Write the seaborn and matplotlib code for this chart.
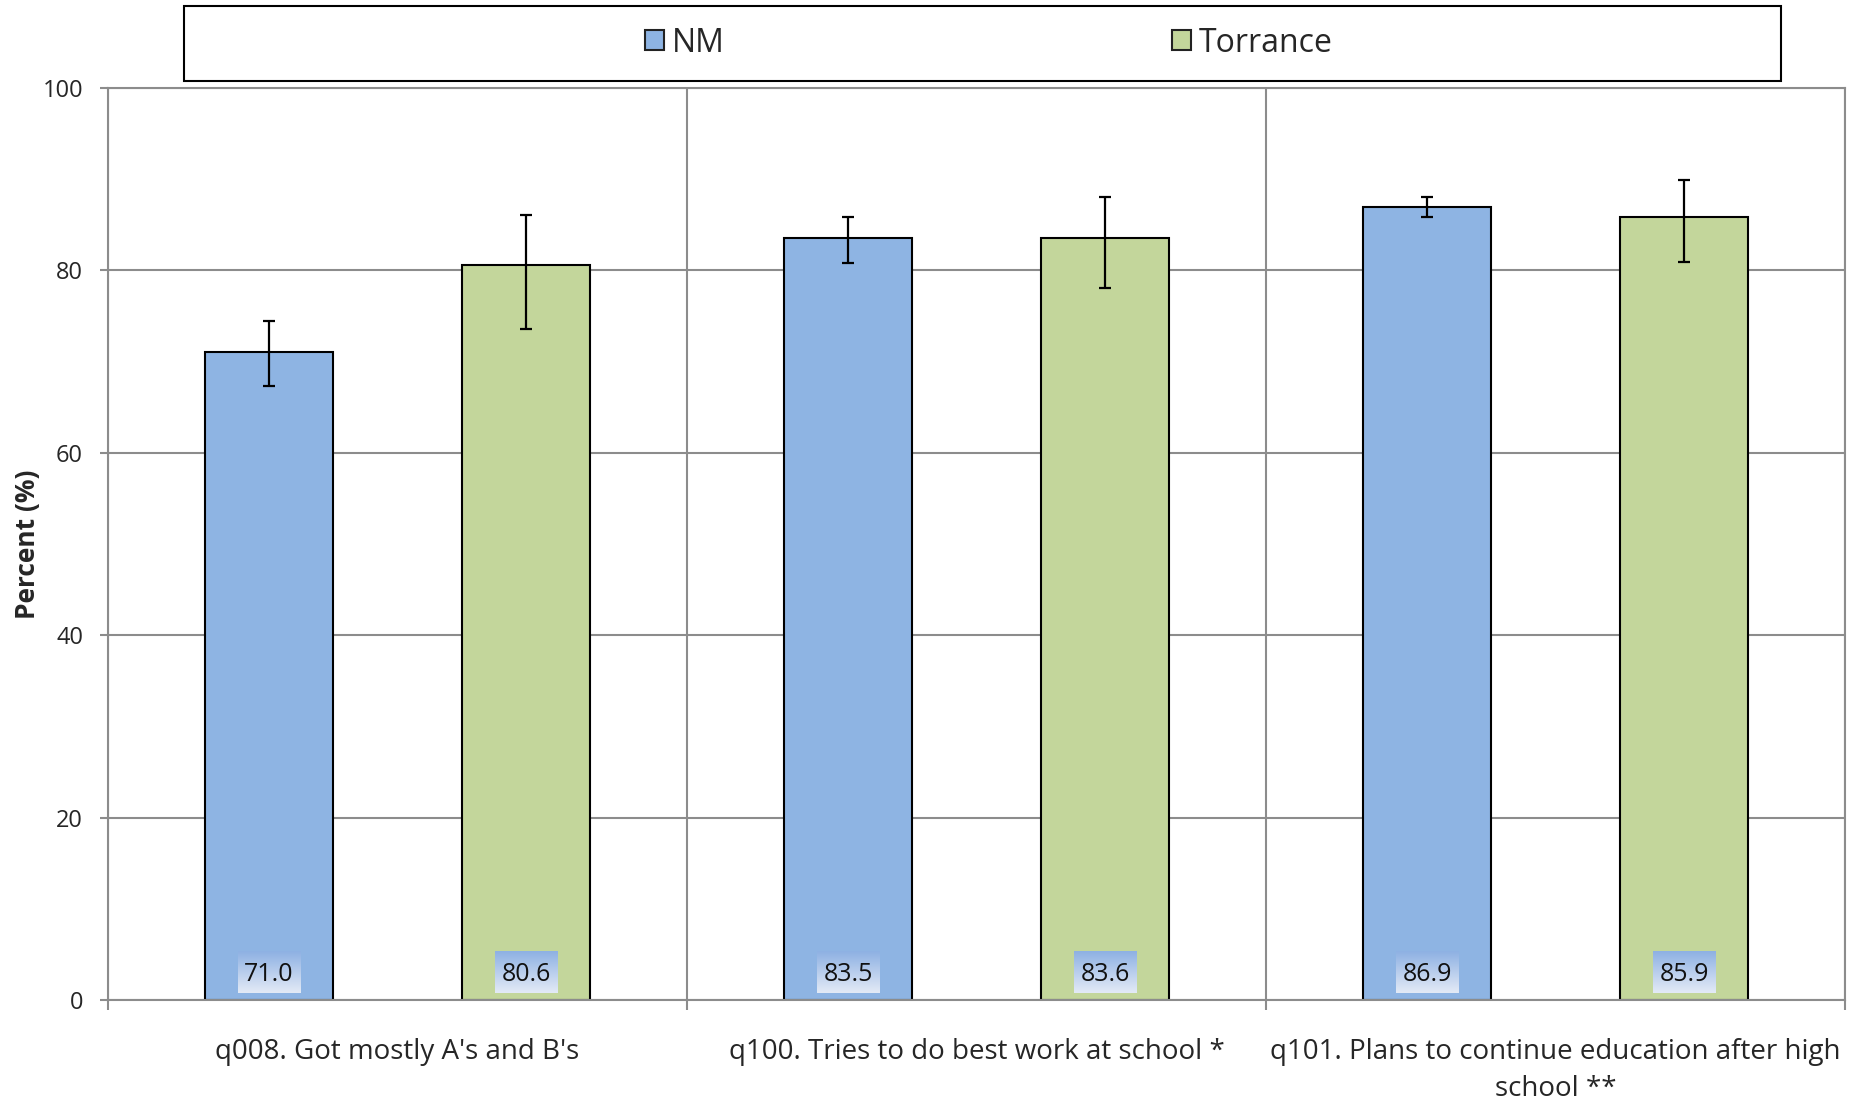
import numpy as np
import pandas as pd
import matplotlib.pyplot as plt
import seaborn as sns
from matplotlib.patches import Rectangle, Patch

# Data
questions = ["q008. Got mostly A's and B's",
             "q100. Tries to do best work at school *",
             "q101. Plans to continue education after high\nschool **"]
groups = ["NM", "Torrance"]
nm_values = [71.0, 83.5, 86.9]
torrance_values = [80.6, 83.6, 85.9]
nm_low = [67.3, 80.8, 85.9]
nm_high = [74.5, 85.9, 88.0]
torrance_low = [73.6, 78.1, 80.9]
torrance_high = [86.1, 88.0, 89.9]

colors = {"NM": "#8EB4E3", "Torrance": "#C3D69B"}

sns.set_style("white")
plt.rcParams['font.family'] = ['Open Sans', 'DejaVu Sans']

df = pd.DataFrame({
    'question': questions * 2,
    'group': ["NM"] * 3 + ["Torrance"] * 3,
    'value': nm_values + torrance_values,
    'low': nm_low + torrance_low,
    'high': nm_high + torrance_high,
})

fig = plt.figure(figsize=(18.66, 11.04), dpi=100)
ax = fig.add_axes([0.0579, 0.0942, 0.9309, 0.8261])

sns.barplot(data=df, x='question', y='value', hue='group', order=questions,
            hue_order=groups, palette=colors, saturation=1, width=0.888,
            gap=0.5, errorbar=None, edgecolor='black', linewidth=1.5, ax=ax,
            legend=False)

# error bars + value labels, from the bar patches
bars = [p for p in ax.patches if isinstance(p, Rectangle)][:6]
for i, p in enumerate(bars):
    row = df.iloc[i]
    xc = p.get_x() + p.get_width() / 2
    ax.errorbar(xc, row['value'],
                yerr=[[row['value'] - row['low']], [row['high'] - row['value']]],
                fmt='none', ecolor='black', elinewidth=1.6, capsize=4.5,
                capthick=1.6, zorder=5)
    # gradient box behind the label
    grad = np.linspace(0, 1, 50).reshape(-1, 1)
    ax.imshow(grad, extent=(xc - 0.054, xc + 0.054, 0.8, 5.4),
              cmap=sns.blend_palette(["#8EB1E3", "#E3EAF6"], as_cmap=True),
              aspect='auto', origin='upper', zorder=4)
    ax.text(xc, 2.8, f"{row['value']:.1f}", ha='center', va='center',
            fontsize=18, color='#111111', zorder=6)

ax.set_xlim(-0.5, 2.5)
ax.set_ylim(0, 100)
ax.set_yticks(range(0, 101, 20))
ax.set_xticks([-0.5, 0.5, 1.5, 2.5], minor=True)
ax.grid(axis='y', color='#8c8c8c', linewidth=1.5, zorder=0)
ax.grid(axis='x', which='minor', color='#8c8c8c', linewidth=1.5)
ax.set_axisbelow(True)
for s in ax.spines.values():
    s.set_color('#8c8c8c')
    s.set_linewidth(1.5)
ax.tick_params(axis='y', length=6, width=1.5, color='#8c8c8c', pad=12,
               labelsize=17, direction='out', left=True)
ax.tick_params(axis='x', which='major', length=0, pad=27, labelsize=20)
ax.tick_params(axis='x', which='minor', length=7, width=1.5, color='#8c8c8c',
               direction='out', bottom=True)
for lbl in ax.get_xticklabels():
    lbl.set_linespacing(1.45)
ax.set_xlabel('')
ax.set_ylabel('Percent (%)', fontsize=19, fontweight='bold', labelpad=1)

# legend box on top
fig.patches.append(Rectangle((184 / 1866, 1 - 81 / 1104), 1597 / 1866, 75 / 1104,
                             transform=fig.transFigure, fill=False,
                             edgecolor='black', linewidth=1.5))
handles = [Patch(facecolor=colors[g], edgecolor='#222222', linewidth=1.5, label=g)
           for g in groups]
fig.legend(handles=handles, loc='center', bbox_to_anchor=(0.53, 1 - 43 / 1104),
           ncol=2, frameon=False, fontsize=23, handlelength=0.6,
           handleheight=0.6, handletextpad=0.25, columnspacing=14)

fig.savefig('out.png', dpi=100)
